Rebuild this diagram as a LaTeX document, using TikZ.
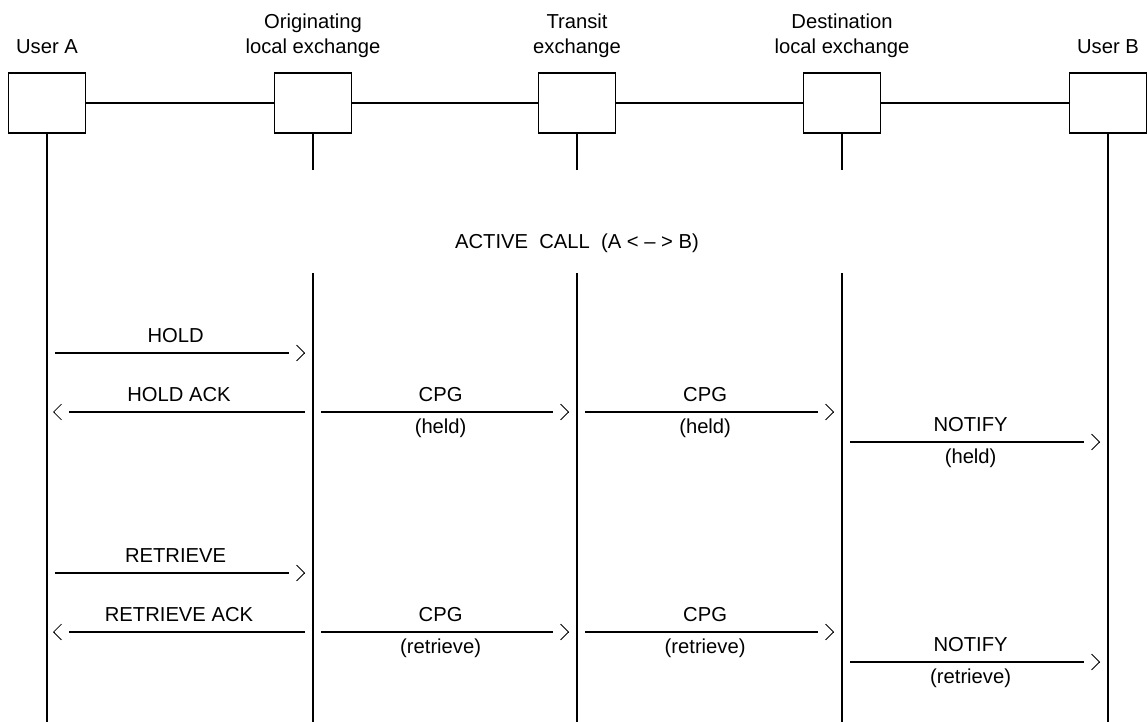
\documentclass[tikz,border=0pt]{standalone}
\usepackage{fontspec}
\setmainfont{Liberation Sans}
\usetikzlibrary{arrows.meta,calc}

\tikzset{
  ent/.style={draw, line width=0.6pt, minimum width=1.54cm, minimum height=1.2cm, inner sep=0pt},
  head/.style={above=8.8pt, inner sep=0pt, text depth=2pt, align=center},
  life/.style={line width=1.1pt},
  msg/.style={line width=1.1pt, shorten >=9pt},
  fwd/.style={msg, every node/.append style={xshift=-2.5pt}},
  bwd/.style={msg},
  barb/.style={line width=0.5pt, -{Straight Barb[length=4.5pt,width=9pt]}},
  over/.style={above=3.2pt, inner sep=0pt, text height=8pt, text depth=2pt},
  under/.style={below=3.6pt, inner sep=0pt, text height=8pt, text depth=2pt}
}

\begin{document}
\begin{tikzpicture}[x=0.02cm, y=-0.02cm, font=\fontsize{11.5}{14.2}\selectfont]
\useasboundingbox (0,0) rectangle (1148,722);

% the five parties
\node[ent] (ua) at (47,103) {};
\node[ent] (ole) at (313,103) {};
\node[ent] (te) at (577,103) {};
\node[ent] (dle) at (842,103) {};
\node[ent] (ub) at (1108,103) {};

\node[head] (ua-t) at (ua.north) {User A};
\node[head] (ole-t) at (ole.north) {Originating\\local exchange};
\node[head] (te-t) at (te.north) {Transit\\exchange};
\node[head] (dle-t) at (dle.north) {Destination\\local exchange};
\node[head] (ub-t) at (ub.north) {User B};

\draw[life] (ua) -- (ole) -- (te) -- (dle) -- (ub);

% lifelines
\coordinate (ua-end) at (47,722);
\coordinate (ub-end) at (1108,722);
\draw[life] (ua.south) -- (ua-end);
\draw[life] (ub.south) -- (ub-end);
\foreach \n/\x in {ole/313, te/577, dle/842}{
    \coordinate (\n-cut) at (\x,170);
    \coordinate (\n-on) at (\x,273);
    \coordinate (\n-end) at (\x,722);
    \draw[life] (\n.south) -- (\n-cut);
    \draw[life] (\n-on) -- (\n-end);
}

\node (call) at (577,243) {ACTIVE\ \ CALL\ \ (A < – > B)};

% messages
\foreach \n/\s/\xa/\xb/\y/\top/\bot in {
    hold/fwd/55/305/353/HOLD/,
    holdack/bwd/305/53/412/HOLD ACK/,
    cpgh1/fwd/321/569/412/CPG/(held),
    cpgh2/fwd/585/834/412/CPG/(held),
    notifyh/fwd/850/1100/442/NOTIFY/(held),
    retr/fwd/55/305/573/RETRIEVE/,
    retrack/bwd/305/53/632/RETRIEVE ACK/,
    cpgr1/fwd/321/569/632/CPG/(retrieve),
    cpgr2/fwd/585/834/632/CPG/(retrieve),
    notifyr/fwd/850/1100/662/NOTIFY/(retrieve)}{
    \coordinate (\n-s) at (\xa,\y);
    \coordinate (\n-e) at (\xb,\y);
    \draw[\s] (\n-s) -- (\n-e) node[midway, over] {\top} node[midway, under] {\bot};
    \draw[barb] ($(\n-e)!0.3pt!(\n-s)$) -- (\n-e);
}
\end{tikzpicture}
\end{document}
